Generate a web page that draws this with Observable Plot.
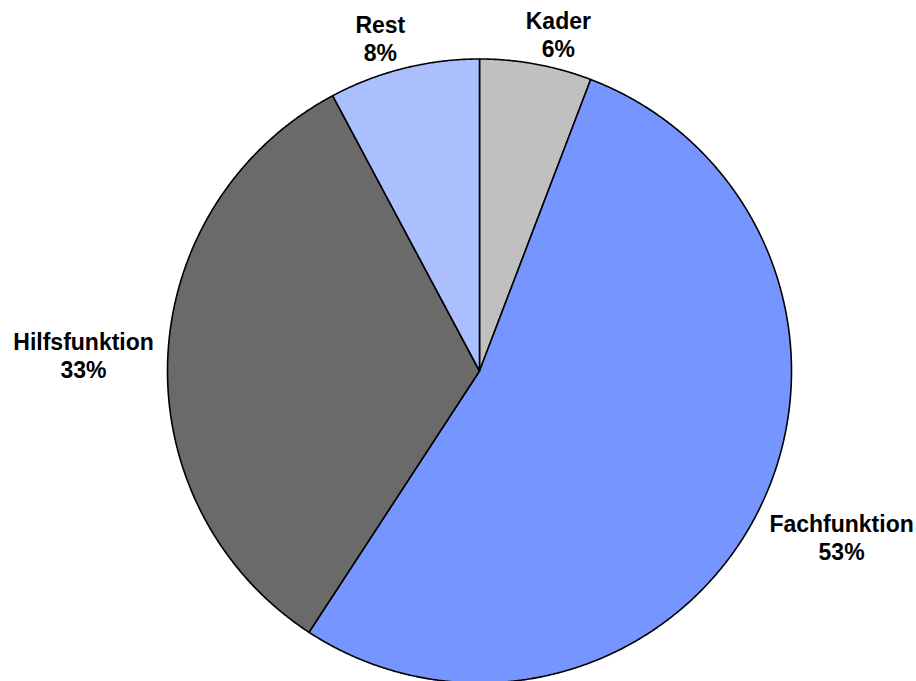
<!DOCTYPE html>
<html>
<head>
<meta charset="utf-8">
<script src="https://cdn.jsdelivr.net/npm/d3@7"></script>
<script src="https://cdn.jsdelivr.net/npm/@observablehq/plot@0.6"></script>
<style>
  html, body { margin: 0; padding: 0; background: #fff; }
  #chart { width: 916px; height: 681px; }
</style>
</head>
<body>
<div id="chart"></div>
<script>
// ---- data ----
const categories = ["Kader", "Fachfunktion", "Hilfsfunktion", "Rest"];
const shares = [5.8, 53.4, 33.0, 7.8];
const sliceColors = ["#c0c0c0", "#7795ff", "#6a6a6a", "#abbfff"];

// ---- layout ----
const W = 916, H = 681;
const cx = 479, cy = 370.5, R = 312;     // pie centre and radius in pixels
const fontSize = 23, lineHeightPx = 28.5, pad = 8;

const pie = d3.pie().sort(null).value(d => d.value);
const arcs = pie(categories.map((name, i) => ({name, value: shares[i]})));

// slice polygons in unit-circle coordinates (y up)
const pts = [];
for (const a of arcs) {
  const name = a.data.name;
  pts.push({name, x: 0, y: 0});
  const n = Math.max(2, Math.ceil((a.endAngle - a.startAngle) / (Math.PI / 720)));
  for (let k = 0; k <= n; k++) {
    const t = a.startAngle + (a.endAngle - a.startAngle) * k / n;
    pts.push({name, x: Math.sin(t), y: Math.cos(t)});
  }
}

// label positions: anchor just outside the arc at the mid-angle, text block hung off that anchor
const ctx = document.createElement("canvas").getContext("2d");
ctx.font = `bold ${fontSize}px "Liberation Sans", Arial, sans-serif`;
const clamp = v => Math.max(-1, Math.min(1, v));
const labels = arcs.map(a => {
  const name = a.data.name;
  const pct = `${Math.round(a.data.value)}%`;
  const mid = (a.startAngle + a.endAngle) / 2;
  const halfW = Math.max(ctx.measureText(name).width, ctx.measureText(pct).width) / 2;
  const halfH = (lineHeightPx + fontSize * 0.72) / 2;
  const s = Math.sin(mid), c = Math.cos(mid);
  const px = s * (R + pad + 6 * Math.abs(s)) + halfW * clamp(s * 3.5);
  const py = c * (R + pad) + halfH * clamp(c * 2);
  return {text: `${name}\n${pct}`, x: px / R, y: py / R};
});

const chart = Plot.plot({
  width: W,
  height: H,
  margin: 0,
  x: {domain: [-cx / R, (W - cx) / R], axis: null},
  y: {domain: [-(H - cy) / R, cy / R], axis: null},
  color: {domain: categories, range: sliceColors},
  style: {background: "#fff", fontFamily: '"Liberation Sans", Arial, sans-serif'},
  marks: [
    Plot.line(pts, {
      x: "x", y: "y", z: "name", fill: "name",
      stroke: "#000", strokeWidth: 1.6, strokeLinejoin: "round",
      curve: "linear-closed"
    }),
    Plot.text(labels, {
      x: "x", y: "y", text: "text",
      fontSize, fontWeight: "bold", fill: "#000",
      lineHeight: lineHeightPx / fontSize, lineAnchor: "middle", textAnchor: "middle"
    })
  ]
});
document.getElementById("chart").appendChild(chart);
</script>
</body>
</html>
